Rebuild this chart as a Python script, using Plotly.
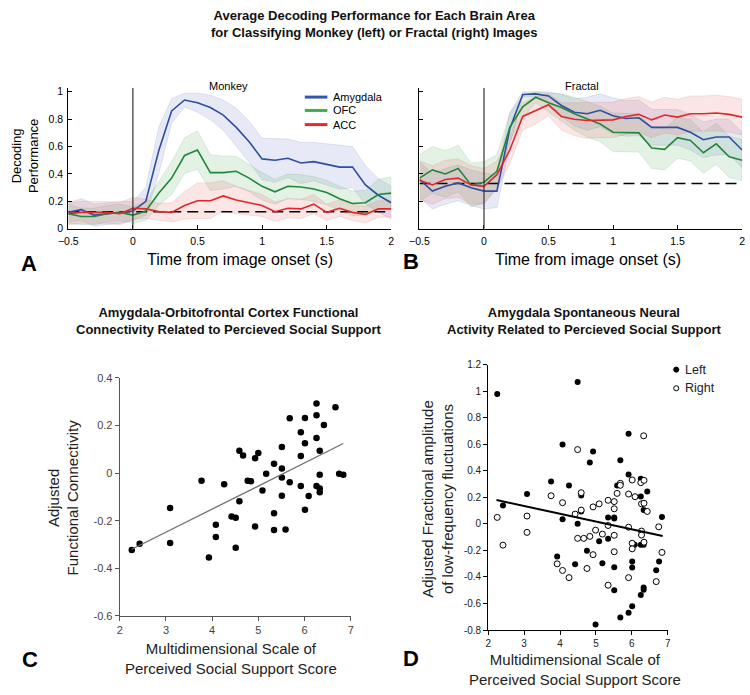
import plotly.graph_objects as go
import numpy as np

# ---------------- data ----------------
time_s = [-0.5, -0.4, -0.3, -0.2, -0.1, 0.0, 0.1, 0.2, 0.3, 0.4, 0.5, 0.6, 0.7, 0.8, 0.9,
          1.0, 1.1, 1.2, 1.3, 1.4, 1.5, 1.6, 1.7, 1.8, 1.9, 2.0]
chance_monkey = 0.125
chance_fractal = 0.33
onset_time = 0.0

# Panel A (Monkey)
monkey_amygdala = [0.12, 0.14, 0.10, 0.11, 0.12, 0.13, 0.20, 0.57, 0.86, 0.94, 0.92, 0.885, 0.83, 0.74, 0.635,
                   0.51, 0.50, 0.515, 0.48, 0.49, 0.47, 0.45, 0.45, 0.32, 0.245, 0.19]
monkey_amygdala_err = [0.07, 0.08, 0.08, 0.08, 0.08, 0.07, 0.10, 0.17, 0.09, 0.05, 0.07, 0.09, 0.11, 0.14, 0.15,
                       0.15, 0.16, 0.14, 0.15, 0.14, 0.15, 0.16, 0.15, 0.14, 0.12, 0.12]
monkey_ofc = [0.11, 0.09, 0.09, 0.11, 0.12, 0.10, 0.13, 0.26, 0.37, 0.535, 0.575, 0.41, 0.41, 0.42, 0.37,
              0.31, 0.27, 0.31, 0.305, 0.29, 0.265, 0.22, 0.185, 0.19, 0.25, 0.26]
monkey_ofc_err = [0.07, 0.06, 0.06, 0.06, 0.06, 0.06, 0.07, 0.09, 0.12, 0.13, 0.14, 0.13, 0.12, 0.11, 0.10,
                  0.10, 0.09, 0.09, 0.09, 0.09, 0.09, 0.09, 0.09, 0.09, 0.11, 0.12]
monkey_acc = [0.11, 0.12, 0.12, 0.12, 0.11, 0.15, 0.145, 0.125, 0.12, 0.17, 0.205, 0.205, 0.24, 0.21, 0.19,
              0.17, 0.125, 0.15, 0.145, 0.18, 0.12, 0.15, 0.12, 0.105, 0.145, 0.145]
monkey_acc_err = [0.08, 0.08, 0.08, 0.08, 0.08, 0.08, 0.07, 0.06, 0.07, 0.10, 0.13, 0.13, 0.11, 0.10, 0.09,
                  0.08, 0.07, 0.07, 0.07, 0.07, 0.06, 0.06, 0.06, 0.06, 0.06, 0.06]

# Panel B (Fractal)
fractal_amygdala = [0.36, 0.275, 0.31, 0.335, 0.30, 0.275, 0.275, 0.73, 0.98, 0.985, 0.97, 0.90, 0.85, 0.84, 0.865,
                    0.825, 0.805, 0.81, 0.74, 0.74, 0.74, 0.705, 0.65, 0.67, 0.67, 0.575]
fractal_amygdala_err = [0.13, 0.13, 0.13, 0.13, 0.13, 0.13, 0.12, 0.12, 0.02, 0.02, 0.04, 0.08, 0.10, 0.12, 0.12,
                        0.13, 0.13, 0.13, 0.13, 0.13, 0.13, 0.13, 0.13, 0.13, 0.13, 0.13]
fractal_ofc = [0.37, 0.43, 0.40, 0.44, 0.32, 0.34, 0.42, 0.74, 0.89, 0.96, 0.92, 0.885, 0.84, 0.80, 0.765,
               0.705, 0.705, 0.70, 0.59, 0.58, 0.665, 0.645, 0.555, 0.62, 0.525, 0.50]
fractal_ofc_err = [0.17, 0.17, 0.17, 0.17, 0.16, 0.15, 0.12, 0.10, 0.08, 0.04, 0.07, 0.10, 0.12, 0.13, 0.13,
                   0.14, 0.14, 0.14, 0.15, 0.15, 0.15, 0.15, 0.15, 0.15, 0.15, 0.15]
fractal_acc = [0.355, 0.32, 0.36, 0.37, 0.32, 0.31, 0.395, 0.575, 0.82, 0.865, 0.905, 0.82, 0.80, 0.79, 0.795,
               0.795, 0.82, 0.835, 0.795, 0.83, 0.815, 0.84, 0.84, 0.845, 0.835, 0.815]
fractal_acc_err = [0.14, 0.14, 0.14, 0.14, 0.14, 0.13, 0.10, 0.10, 0.10, 0.10, 0.08, 0.10, 0.12, 0.13, 0.13,
                   0.13, 0.13, 0.13, 0.13, 0.13, 0.13, 0.13, 0.13, 0.13, 0.13, 0.13]

# Panel C
mspss_c = [2.26, 2.43, 3.09, 3.09, 3.77, 3.93, 4.08, 4.08, 4.26, 4.42, 4.51, 4.51, 4.59, 4.59, 4.67, 4.77,
           4.84, 4.93, 4.93, 5.00, 5.09, 5.17, 5.34, 5.34, 5.34, 5.51, 5.51, 5.51, 5.51, 5.59, 5.68, 5.68,
           5.92, 5.92, 5.92, 6.01, 6.01, 6.01, 6.09, 6.26, 6.26, 6.26, 6.26, 6.33, 6.33, 6.33, 6.33, 6.42,
           6.67, 6.75, 6.84]
connectivity_c = [-0.323, -0.297, -0.147, -0.294, -0.032, -0.355, -0.217, -0.268, -0.047, -0.182, -0.188,
                  -0.314, 0.094, -0.118, 0.074, -0.032, -0.034, 0.062, -0.224, 0.084, -0.073, -0.003, 0.039,
                  -0.169, -0.239, 0.109, 0.019, -0.019, -0.095, -0.237, 0.23, -0.039, 0.171, 0.072, -0.054,
                  0.231, 0.125, -0.154, -0.096, 0.292, 0.243, 0.147, -0.054, 0.094, -0.007, -0.065, -0.081,
                  0.202, 0.276, -0.003, -0.007]
fit_c_x = [2.26, 6.84]
fit_c_y = [-0.32, 0.124]

# Panel D
mspss_left = [2.25, 2.41, 3.08, 3.75, 3.92, 4.07, 4.07, 4.25, 4.42, 4.49, 4.49, 4.59, 4.59, 4.75, 4.83,
              4.92, 4.99, 5.09, 5.18, 5.34, 5.34, 5.51, 5.51, 5.51, 5.51, 5.59, 5.68, 5.68, 5.91, 5.91,
              5.91, 6.01, 6.01, 6.01, 6.08, 6.25, 6.25, 6.25, 6.25, 6.33, 6.33, 6.33, 6.33, 6.43, 6.68,
              6.76, 6.84]
alff_left = [0.98, 0.138, 0.225, 0.32, -0.245, 0.598, 0.035, 0.289, -0.304, 1.07, 0.002, 0.215, 0.094,
             -0.202, 0.462, 0.546, -0.758, -0.131, -0.296, 0.049, -0.111, 0.049, 0.04, -0.326, -0.501,
             0.289, 0.479, -0.706, 0.679, 0.373, -0.669, -0.284, -0.328, -0.62, -0.158, 0.34, 0.207,
             -0.158, -0.536, 0.104, -0.158, -0.48, -0.496, 0.244, -0.35, -0.284, 0.052]
mspss_right = [2.25, 2.41, 3.08, 3.08, 3.75, 3.92, 4.07, 4.07, 4.25, 4.42, 4.49, 4.49, 4.59, 4.59, 4.66,
               4.75, 4.83, 4.92, 4.92, 4.99, 5.09, 5.18, 5.34, 5.34, 5.34, 5.51, 5.51, 5.51, 5.51, 5.59,
               5.68, 5.68, 5.91, 5.91, 5.91, 6.01, 6.01, 6.01, 6.09, 6.25, 6.34, 6.27, 6.34, 6.27, 6.27,
               6.34, 6.43, 6.33, 6.68, 6.75, 6.84]
alff_right = [0.049, -0.16, 0.059, -0.064, 0.212, -0.301, 0.16, -0.351, -0.405, 0.074, 0.56, -0.109,
              0.235, 0.104, -0.109, -0.336, -0.094, 0.128, -0.232, -0.047, 0.151, -0.077, 0.178, -0.012,
              -0.462, 0.168, 0.114, -0.086, -0.21, 0.23, 0.306, 0.291, 0.225, -0.025, -0.405, 0.331,
              -0.146, -0.188, 0.205, 0.311, 0.328, 0.151, 0.156, -0.054, -0.084, -0.138, 0.094, 0.664,
              -0.435, -0.022, -0.215]
fit_d_x = [2.23, 6.86]
fit_d_y = [0.18, -0.091]

area_names = ["Amygdala", "OFC", "ACC"]
hemisphere_names = ["Left", "Right"]
tick_time = [-0.5, 0, 0.5, 1, 1.5, 2]
tick_perf = [0, 0.2, 0.4, 0.6, 0.8, 1]
tick_c_y = [0.4, 0.2, 0, -0.2, -0.4, -0.6]
tick_c_y_text = ["0.4", "0.2", "0", "-0.2", "-0.4", "-0.6"]
tick_d_y = [1.2, 1, 0.8, 0.6, 0.4, 0.2, 0, -0.2, -0.4, -0.6, -0.8]
tick_d_y_text = ["1.2", "1", "0.8", "0.6", "0.4", "0.2", "0", "-0.2", "-0.4", "-0.6", "-0.8"]
tick_mspss = [2, 3, 4, 5, 6, 7]

# ---------------- styling ----------------
FONT = "Liberation Sans, Arial, Helvetica, sans-serif"
W, H = 750, 695
line_colors = ["#2f4da0", "#23873a", "#e3262b"]
legend_colors = ["#3556b0", "#3fb04a", "#e8262a"]
band_colors = ["rgba(110,130,200,0.17)", "rgba(90,175,100,0.17)", "rgba(240,100,100,0.17)"]
band_edges = ["rgba(90,100,150,0.25)", "rgba(80,140,90,0.25)", "rgba(200,90,90,0.25)"]


def px(x):
    return x / W


def py(y):
    return 1 - y / H


fig = go.Figure()

panels = [
    ("x", "y", [monkey_amygdala, monkey_ofc, monkey_acc],
     [monkey_amygdala_err, monkey_ofc_err, monkey_acc_err], chance_monkey),
    ("x2", "y2", [fractal_amygdala, fractal_ofc, fractal_acc],
     [fractal_amygdala_err, fractal_ofc_err, fractal_acc_err], chance_fractal),
]
for xa, ya, means, errs, chance in panels:
    for i, (m, e) in enumerate(zip(means, errs)):
        m = np.array(m)
        e = np.array(e)
        upper = np.minimum(m + e, 1.0)
        lower = m - e
        fig.add_trace(go.Scatter(
            x=time_s + time_s[::-1], y=list(upper) + list(lower[::-1]),
            fill="toself", fillcolor=band_colors[i], line=dict(color=band_edges[i], width=0.6),
            xaxis=xa, yaxis=ya, showlegend=False, hoverinfo="skip", mode="lines"))
    fig.add_trace(go.Scatter(
        x=[time_s[0], time_s[-1]], y=[chance, chance], mode="lines",
        line=dict(color="black", width=1.5, dash="11px,6px"),
        xaxis=xa, yaxis=ya, showlegend=False, hoverinfo="skip"))
    for i, m in enumerate(means):
        fig.add_trace(go.Scatter(
            x=time_s, y=m, mode="lines", name=area_names[i],
            line=dict(color=line_colors[i], width=1.6),
            xaxis=xa, yaxis=ya, showlegend=False))

# Panel C
fig.add_trace(go.Scatter(x=mspss_c, y=connectivity_c, mode="markers",
                         marker=dict(color="black", size=6.5), xaxis="x3", yaxis="y3",
                         showlegend=False))
fig.add_trace(go.Scatter(x=fit_c_x, y=fit_c_y, mode="lines", line=dict(color="#707070", width=1.3),
                         xaxis="x3", yaxis="y3", showlegend=False))

# Panel D
fig.add_trace(go.Scatter(x=mspss_left, y=alff_left, mode="markers", name=hemisphere_names[0],
                         marker=dict(color="black", size=6), xaxis="x4", yaxis="y4", showlegend=False))
fig.add_trace(go.Scatter(x=mspss_right, y=alff_right, mode="markers", name=hemisphere_names[1],
                         marker=dict(color="white", size=6, line=dict(color="black", width=1)),
                         xaxis="x4", yaxis="y4", showlegend=False))
fig.add_trace(go.Scatter(x=fit_d_x, y=fit_d_y, mode="lines", line=dict(color="black", width=2),
                         xaxis="x4", yaxis="y4", showlegend=False))

# ---------------- axes ----------------
ya_dom = [py(226.7), py(83.1)]
common_time_x = dict(range=[-0.5, 2], tickvals=tick_time, ticks="inside", ticklen=4, tickcolor="black",
                     showline=True, linecolor="black", linewidth=1, showgrid=False, zeroline=False,
                     ticklabelstandoff=3, ticklabeloverflow="allow",
                     tickfont=dict(size=10.5, color="black", family=FONT))
common_perf_y = dict(range=[0, 1.03], tickvals=tick_perf, ticks="inside", ticklen=4, tickcolor="black",
                     showline=True, linecolor="black", linewidth=1, showgrid=False, zeroline=False,
                     ticklabelstandoff=2,
                     tickfont=dict(size=10.5, color="black", family=FONT))

c_axis = dict(showline=True, linecolor="#555555", linewidth=1.2, showgrid=False, zeroline=False,
              ticks="outside", ticklen=4, tickcolor="#555555",
              tickfont=dict(size=11, color="#444444", family=FONT))
d_axis = dict(showline=True, linecolor="black", linewidth=1.2, showgrid=False, zeroline=False,
              ticks="outside", ticklen=4, tickcolor="black",
              tickfont=dict(size=10, color="#222222", family=FONT))

fig.update_layout(
    xaxis=dict(domain=[px(59.3), px(388)], anchor="y", **common_time_x),
    yaxis=dict(domain=ya_dom, anchor="x", **common_perf_y),
    xaxis2=dict(domain=[px(416.7), px(745)], anchor="y2", **common_time_x),
    yaxis2=dict(domain=ya_dom, anchor="x2", showticklabels=False, **common_perf_y),
    xaxis3=dict(domain=[px(111.7), px(346.7)], anchor="y3", range=[2, 7], tickvals=tick_mspss, **c_axis),
    yaxis3=dict(domain=[py(620.7), py(378.3)], anchor="x3", range=[-0.6, 0.4], tickvals=tick_c_y,
                ticktext=tick_c_y_text, **c_axis),
    xaxis4=dict(domain=[px(486.7), px(669.3)], anchor="y4", range=[2, 7], tickvals=tick_mspss, **d_axis),
    yaxis4=dict(domain=[py(635), py(365)], anchor="x4", range=[-0.8, 1.2], tickvals=tick_d_y,
                ticktext=tick_d_y_text, **d_axis),
)

# onset vertical lines
for xr, yr in [("x", "y"), ("x2", "y2")]:
    fig.add_shape(type="line", xref=xr, yref=yr, x0=onset_time, x1=onset_time, y0=0, y1=1.03,
                  line=dict(color="#333333", width=1.2))

# ---------------- text ----------------
ann = []


def text(x, y, s, size, bold=False, angle=0, color="black", xanchor="center"):
    ann.append(dict(x=px(x), y=py(y), xref="paper", yref="paper", text=("<b>%s</b>" % s) if bold else s,
                    showarrow=False, textangle=angle, xanchor=xanchor, yanchor="middle",
                    font=dict(size=size, color=color, family=FONT)))


text(371, 18, "Average Decoding Performance for Each Brain Area<br>for Classifying Monkey (left) or Fractal (right) Images", 13, bold=True, color="#111111")
text(222, 81, "Monkey", 11)
text(582, 81, "Fractal", 11)
text(16, 153, "Decoding<br>Performance", 13, angle=-90)
text(234, 258, "Time from image onset (s)", 16)
text(588, 258, "Time from image onset (s)", 16)
text(19, 262, "A", 22, bold=True)
text(408, 260, "B", 22, bold=True)

text(223, 321, "Amygdala-Orbitofrontal Cortex Functional<br>Connectivity Related to Percieved Social Support", 13, bold=True, color="#111111")
text(584, 321, "Amygdala Spontaneous Neural<br>Activity Related to Percieved Social Support", 13, bold=True, color="#111111")
text(54, 500, "Adjusted<br>Functional Connectivity", 15, angle=-90, color="#222222")
text(225, 664, "Multidimensional Scale of<br>Perceived Social Support Score", 15, color="#222222")
text(435, 501, "Adjusted Fractional amplitude<br>of low-frequency fluctuations", 15, angle=-90, color="#222222")
text(575, 675, "Multidimensional Scale of<br>Perceived Social Support Score", 15, color="#222222")
text(20, 665, "C", 22, bold=True)
text(408, 664, "D", 22, bold=True)

# legend for panel A (line keys + labels)
shapes = []
legend_a_y = [92.7, 106.3, 120.7]
for i, name in enumerate(area_names):
    shapes.append(dict(type="line", xref="paper", yref="paper", x0=px(300), x1=px(323),
                       y0=py(legend_a_y[i]), y1=py(legend_a_y[i]),
                       line=dict(color=legend_colors[i], width=3)))
    text(327, legend_a_y[i], name, 11, xanchor="left")

# legend for panel D (marker keys + labels)
legend_d_y = [370, 389]
for i, name in enumerate(hemisphere_names):
    r = 2.6
    shapes.append(dict(type="circle", xref="paper", yref="paper",
                       x0=px(678 - r), x1=px(678 + r), y0=py(legend_d_y[i] + r), y1=py(legend_d_y[i] - r),
                       fillcolor="black" if i == 0 else "white",
                       line=dict(color="black", width=1)))
    text(685, legend_d_y[i], name, 12.5, xanchor="left", color="#222222")

fig.update_layout(
    annotations=ann,
    shapes=list(fig.layout.shapes) + shapes,
    width=W, height=H, margin=dict(l=0, r=0, t=0, b=0),
    paper_bgcolor="white", plot_bgcolor="white",
    font=dict(family=FONT, color="black"),
    showlegend=False,
)

fig.write_html("out.html", config={"displayModeBar": False},
               post_script="document.body.style.margin='0';document.body.style.overflow='hidden';")
